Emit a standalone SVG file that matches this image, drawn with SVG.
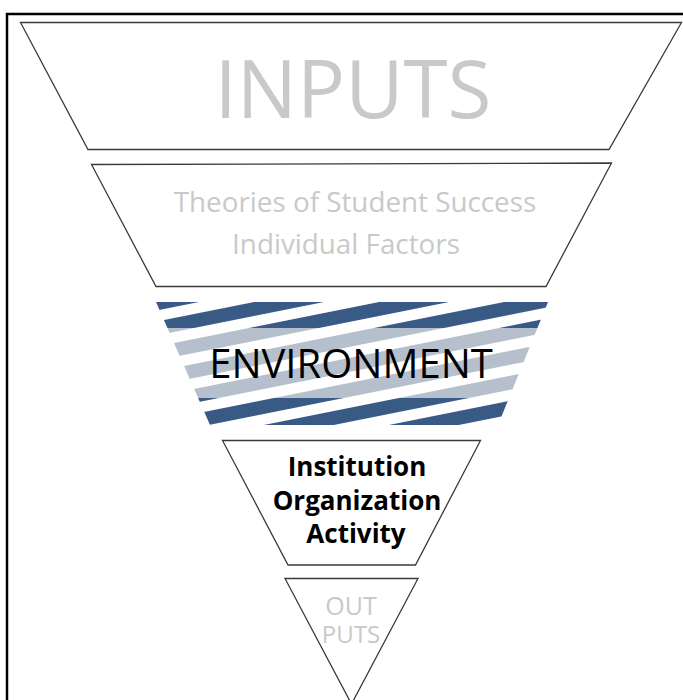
<svg xmlns="http://www.w3.org/2000/svg" width="683" height="700" viewBox="0 0 683 700">
  <style>
    .stage { fill: #ffffff; stroke: #3a3a3a; stroke-width: 1.3; stroke-linejoin: miter; }
    .ghost { fill: #c9c9c9; font-family: "Open Sans", "Liberation Sans", sans-serif; text-anchor: middle; }
    .strong { fill: #000000; font-family: "Open Sans", "Liberation Sans", sans-serif; text-anchor: middle; }
  </style>
  <defs>
    <!-- diagonal stripe fills for the environment band -->
    <pattern id="stripeDark" patternUnits="userSpaceOnUse" width="60" height="24.5" patternTransform="translate(0,3) rotate(-11.3)">
      <rect x="0" y="0" width="60" height="13.7" fill="#3a5a86"/>
    </pattern>
    <pattern id="stripeLight" patternUnits="userSpaceOnUse" width="60" height="24.5" patternTransform="translate(0,3) rotate(-11.3)">
      <rect x="0" y="0" width="60" height="13.7" fill="#b6c0cd"/>
    </pattern>
    <clipPath id="bandClip">
      <polygon points="156,302 548,302 498,425 210,425"/>
    </clipPath>
  </defs>

  <rect width="683" height="700" fill="#ffffff"/>
  <!-- outer frame -->
  <rect x="7" y="14" width="700" height="720" fill="none" stroke="#000000" stroke-width="2.5"/>

  <g id="inputs">
    <polygon class="stage" points="20.5,22.5 681.5,22.5 609,149.5 88,149.5"/>
    <text class="ghost" x="353" y="118" font-size="80">INPUTS</text>
  </g>

  <g id="theories">
    <polygon class="stage" points="91.5,164.5 611.5,163 546,286.5 156,286.5"/>
    <text class="ghost" x="355" y="212" font-size="27.8">Theories of Student Success</text>
    <text class="ghost" x="346" y="254" font-size="27.8">Individual Factors</text>
  </g>

  <g id="environment">
    <g clip-path="url(#bandClip)">
      <rect x="150" y="300" width="410" height="28" fill="url(#stripeDark)"/>
      <rect x="150" y="328" width="410" height="70" fill="url(#stripeLight)"/>
      <rect x="150" y="398" width="410" height="30" fill="url(#stripeDark)"/>
    </g>
    <text class="strong" x="351" y="378" font-size="40">ENVIRONMENT</text>
  </g>

  <g id="institution">
    <polygon class="stage" points="222.5,440.5 480.5,440.5 415.5,565 288,565"/>
    <text class="strong" x="357" y="476" font-size="26" font-weight="700">Institution</text>
    <text class="strong" x="357" y="510" font-size="26" font-weight="700">Organization</text>
    <text class="strong" x="356" y="543" font-size="26" font-weight="700">Activity</text>
  </g>

  <g id="outputs">
    <polygon class="stage" points="285,578.5 418,578.5 351.5,704"/>
    <text class="ghost" x="351" y="615" font-size="25">OUT</text>
    <text class="ghost" x="351" y="643" font-size="24">PUTS</text>
  </g>

  <g id="connectors"/>
</svg>
